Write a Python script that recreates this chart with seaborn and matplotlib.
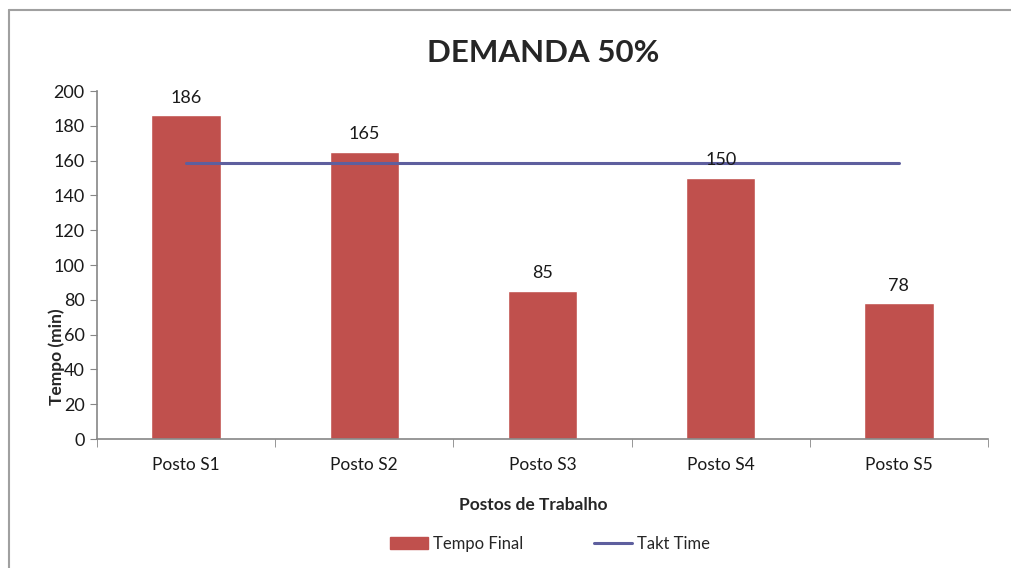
import matplotlib
matplotlib.use('Agg')
import matplotlib.pyplot as plt
import seaborn as sns
import pandas as pd
from matplotlib.lines import Line2D
from matplotlib.patches import Patch

postos = ['Posto S1', 'Posto S2', 'Posto S3', 'Posto S4', 'Posto S5']
tempo_final = [186, 165, 85, 150, 78]
takt_time = [158.6, 158.6, 158.6, 158.6, 158.6]

bar_color = '#C0504D'
line_color = '#5E5F9E'
axis_gray = '#868686'

sns.set_style('white')
plt.rcParams['font.family'] = ['Lato', 'DejaVu Sans']

df = pd.DataFrame({'posto': postos, 'tempo': tempo_final, 'takt': takt_time})

fig = plt.figure(figsize=(10.11, 5.68), dpi=100)
ax = fig.add_axes([97/1011, 1-439/568, (988-97)/1011, (439-91)/568])

sns.barplot(data=df, x='posto', y='tempo', color=bar_color, width=0.39,
            saturation=1, ax=ax)
sns.lineplot(data=df, x='posto', y='takt', color=line_color, linewidth=2.2,
             ax=ax, sort=False)

ax.bar_label(ax.containers[0], labels=[str(v) for v in tempo_final],
             padding=7, fontsize=13, color='#1a1a1a')

ax.set_xlim(-0.5, 4.5)
ax.set_ylim(0, 200)
ax.set_yticks(range(0, 201, 20))
ax.set_xlabel('')
ax.set_ylabel('')
ax.tick_params(axis='y', labelsize=13, length=5, color=axis_gray, left=True,
               pad=4, labelcolor='#1a1a1a')
ax.tick_params(axis='x', labelsize=12.5, length=0, pad=13, labelcolor='#1a1a1a')
ax.set_xticks([-0.5, 0.5, 1.5, 2.5, 3.5, 4.5], minor=True)
ax.tick_params(axis='x', which='minor', length=6, color=axis_gray, bottom=True)
for s in ['top', 'right']:
    ax.spines[s].set_visible(False)
for s in ['left', 'bottom']:
    ax.spines[s].set_color(axis_gray)
    ax.spines[s].set_linewidth(1.2)

fig.text(543/1011, 1-53/568, 'DEMANDA 50%', ha='center', va='center',
         fontsize=22.5, fontweight='bold')
fig.text(533/1011, 1-505/568, 'Postos de Trabalho', ha='center', va='center',
         fontsize=12.5, fontweight='bold')
fig.text(57/1011, 1-357/568, 'Tempo (min)', ha='center', va='center',
         rotation=90, fontsize=12.5, fontweight='bold')

handles = [Patch(facecolor=bar_color, edgecolor=bar_color),
           Line2D([0], [0], color=line_color, linewidth=2.2)]
fig.legend(handles, ['Tempo Final', 'Takt Time'], loc='center',
           bbox_to_anchor=(550/1011, 1-544/568), ncol=2, frameon=False,
           fontsize=12, columnspacing=4.2, handlelength=2.3, handletextpad=0.3)

# chart frame (top and left edges visible)
fig.add_artist(Line2D([9/1011, 9/1011], [0, 1-10/568], color='#a0a0a0', linewidth=1.5))
fig.add_artist(Line2D([9/1011, 1], [1-10/568, 1-10/568], color='#a0a0a0', linewidth=1.5))

fig.savefig('out.png', dpi=100)
